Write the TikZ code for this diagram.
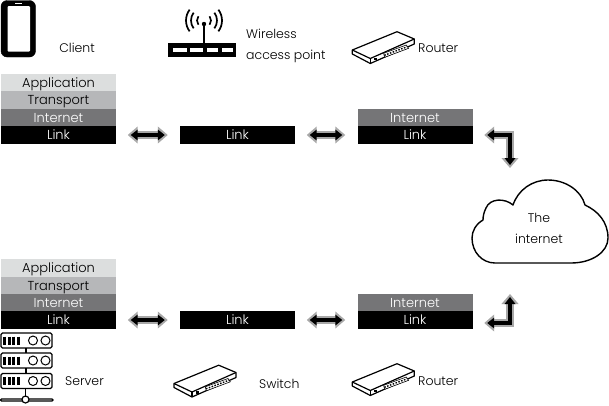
\documentclass[tikz,border=0pt]{standalone}
\usepackage{fontspec}
\setmainfont{Poppins}[UprightFont=* Light]
\usetikzlibrary{arrows.meta}
\definecolor{apgray}{HTML}{DCDEDE}
\definecolor{trgray}{HTML}{B6B7B9}
\definecolor{ingray}{HTML}{757577}
\definecolor{edgegray}{HTML}{A8A8A8}
\tikzset{
  layer/.style={minimum width=115pt, minimum height=17.8pt, inner sep=0pt, text height=10.5pt, text depth=1.5pt, font=\fontsize{13}{15}\selectfont},
  caption/.style={inner sep=0pt, align=left, font=\fontsize{12.5}{21}\selectfont},
  netlink/.style={black, line width=4.5pt, line join=miter, {Triangle[length=7pt,width=10.5pt]}-{Triangle[length=7pt,width=10.5pt]}, shorten <=14.5pt, shorten >=15pt,
    preaction={draw, edgegray, line width=7.5pt, {Triangle[length=10pt,width=16.5pt]}-{Triangle[length=10pt,width=16.5pt]}, shorten <=11.5pt, shorten >=12pt}},
  routerbox/.pic={
    \filldraw [fill=white, line width=1.2pt, line join=round] (0,0) -- (44.7,-18.3) -- (62,-11) -- (62,-6) -- (18,13.5) -- (0,4) -- cycle;
    \draw [line width=1.2pt] (0,0) -- (18,8.5) -- (62,-11);
    \draw [line width=1.2pt] (18,8.5) -- (18,13.5);
    \fill (22,7.5) rectangle (25,10);
    \filldraw [fill=white, line width=.6pt] (31.3,3.3) -- (54,-5) -- (56.3,-1.7) -- (32.3,7.3) -- cycle;
    \draw [line width=1.4pt, dash pattern=on 1.5pt off 1.5pt] (32,5.3) -- (55,-3.3);
  },
  serverbox/.pic={
    \draw [line width=1.1pt, rounded corners=1.5pt] (0,-7.5) rectangle (51,7.5);
    \draw [line width=3pt] (3.5,-4) -- (3.5,4) (8,-4) -- (8,4) (12.5,-4) -- (12.5,4) (17,-4) -- (17,4);
    \draw [line width=1pt] (32,0) circle (4.5pt) (44.5,0) circle (4.5pt);
  }
}
\begin{document}
\begin{tikzpicture}[x=1pt, y=-1pt]
        \useasboundingbox (0,0) rectangle (609,405);

        \filldraw [fill=black, rounded corners=6pt] (1,0.5) rectangle (35.5,57);
        \fill [white, rounded corners=1pt] (7.5,6) rectangle (30,51.5);
        \draw [white, line width=.6pt] (15,3) -- (22,3);
        \node [caption] (clientname) at (77,48) {Client};

        \fill (168,43) rectangle (236,57);
        \foreach \xa/\xb in {173/187, 190/203, 207/218, 222/233} {
            \fill [white] (\xa,48) rectangle (\xb,52);
        }
        \draw [line width=1.5pt] (204,43) -- (204,24);
        \fill (204,24) circle (2.2pt);
        \begin{scope}[line width=1.7pt]
        \foreach \r in {7,13,18} {
            \draw (204,20.5) ++(143:\r) arc [start angle=143, end angle=217, radius=\r];
            \draw (204,20.5) ++(37:\r) arc [start angle=37, end angle=-37, radius=\r];
        }
        \end{scope}
        \node [caption, anchor=west] (apname) at (246,46) {Wireless\\access point};

        \pic at (352.3,50) {routerbox};
        \node [caption, anchor=west] (routernamea) at (418,48) {Router};

        \node [layer, fill=apgray] (appa) at (58.5,82.5) {Application};
        \node [layer, fill=trgray] (transa) at (58.5,100) {Transport};
        \node [layer, fill=ingray, text=white] (neta) at (58.5,117.5) {Internet};
        \node [layer, fill=black, text=white] (linka) at (58.5,135) {Link};
        \node [layer, fill=black, text=white] (linkb) at (237.5,135) {Link};
        \node [layer, fill=ingray, text=white] (netc) at (415,117.5) {Internet};
        \node [layer, fill=black, text=white] (linkc) at (415,135) {Link};

        \filldraw [fill=white, line width=1.4pt, line join=round] (495,263) -- (571,263) .. controls (592,263) and (608,252) .. (608,238) .. controls (608,222) and (598,211) .. (585,205) .. controls (581,190) and (565,180) .. (548,180) .. controls (532,180) and (518,190) .. (513,205) .. controls (505,198) and (490,198) .. (486,208) .. controls (484,212) and (483,216) .. (483,220) .. controls (476,224) and (472,231) .. (472,238) .. controls (472,252) and (482,263) .. (495,263) -- cycle;
        \node [caption, align=center] (cloudname) at (539,228) {The\\internet};
        \coordinate (cloudtop) at (510,180);
        \coordinate (cloudbottom) at (510,282);

        \node [layer, fill=apgray] (appd) at (58.5,268) {Application};
        \node [layer, fill=trgray] (transd) at (58.5,285.5) {Transport};
        \node [layer, fill=ingray, text=white] (netd) at (58.5,303) {Internet};
        \node [layer, fill=black, text=white] (linkd) at (58.5,320) {Link};
        \node [layer, fill=black, text=white] (linke) at (237.5,320) {Link};
        \node [layer, fill=ingray, text=white] (netf) at (415,303) {Internet};
        \node [layer, fill=black, text=white] (linkf) at (415,320) {Link};

        \draw [netlink] (linka) -- (linkb);
        \draw [netlink] (linkb) -- (linkc);
        \draw [netlink] (linkc.east) -| (cloudtop);
        \draw [netlink] (linkd) -- (linke);
        \draw [netlink] (linke) -- (linkf);
        \draw [netlink] ([yshift=-3pt]linkf.east) -| (cloudbottom);

        \draw [line width=2pt] (25.5,348) -- (25.5,353) (25.5,368) -- (25.5,373);
        \pic at (1,340.5) {serverbox};
        \pic at (1,360.5) {serverbox};
        \pic at (1,381) {serverbox};
        \draw [line width=1.5pt] (25.5,388.5) -- (25.5,396);
        \draw [line width=1.2pt, rounded corners=1pt] (0.5,399) -- (53,399) -- (53,401) -- (0.5,401) -- cycle;
        \filldraw [fill=white, line width=1.2pt] (25.5,399.5) circle (3.5pt);
        \node [caption, anchor=west] (servername) at (65,381) {Server};

        \pic at (174,383.5) {routerbox};
        \node [caption, anchor=west] (switchname) at (259,384) {Switch};

        \pic at (352.3,382) {routerbox};
        \node [caption, anchor=west] (routernameb) at (418,381) {Router};

\end{tikzpicture}
\end{document}
